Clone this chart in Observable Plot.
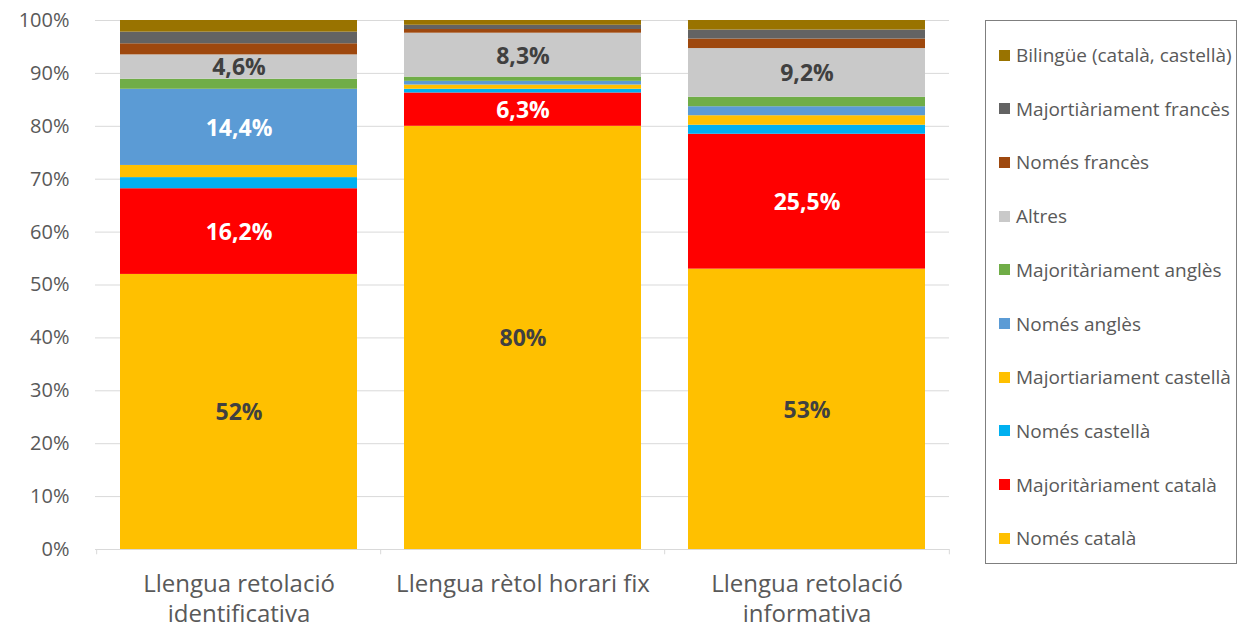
<!DOCTYPE html>
<html>
<head>
<meta charset="utf-8">
<script src="https://cdn.jsdelivr.net/npm/d3@7"></script>
<script src="https://cdn.jsdelivr.net/npm/@observablehq/plot@0.6"></script>
<style>
  html, body { margin: 0; padding: 0; background: #fff; }
  #wrap { position: relative; width: 1239px; height: 629px; font-family: "Open Sans", sans-serif; }
  #legend { position: absolute; left: 985px; top: 20px; width: 252px; height: 544px; border: 1px solid #7f7f7f; box-sizing: border-box; }
  .item { position: absolute; left: 13px; display: flex; align-items: center; font-size: 19px; color: #595959; white-space: nowrap; }
  .sw { width: 11px; height: 11px; margin-right: 6px; }
</style>
</head>
<body>
<div id="wrap"><div id="legend"></div></div>
<script>
// Categories (x axis)
const categories = ["Llengua retolació identificativa", "Llengua rètol horari fix", "Llengua retolació informativa"];
const categoryLabels = ["Llengua retolació\nidentificativa", "Llengua rètol horari fix", "Llengua retolació\ninformativa"];

// Series, bottom to top of each stack
const series = [
  "Només català",
  "Majoritàriament català",
  "Només castellà",
  "Majortiariament castellà",
  "Només anglès",
  "Majoritàriament anglès",
  "Altres",
  "Només francès",
  "Majortiàriament francès",
  "Bilingüe (català, castellà)"
];
const colors = ["#FFC000", "#FF0000", "#00B0F0", "#FFC000", "#5B9BD5", "#70AD47", "#C9C9C9", "#9E480E", "#636363", "#997300"];

// Values (%) per category, in series order
const identificativa = [52, 16.2, 2.1, 2.3, 14.4, 1.9, 4.6, 2.1, 2.2, 2.2];
const horariFix      = [80, 6.3, 0.7, 0.8, 0.7, 0.8, 8.3, 0.7, 0.8, 0.9];
const informativa    = [53, 25.5, 1.7, 1.8, 1.7, 1.8, 9.2, 1.8, 1.7, 1.8];

// Which series carry a data label in each category
const labelledIdentificativa = ["Només català", "Majoritàriament català", "Només anglès", "Altres"];
const labelledHorariFix = ["Només català", "Majoritàriament català", "Altres"];
const labelledInformativa = ["Només català", "Majoritàriament català", "Altres"];

const whiteLabelSeries = ["Majoritàriament català", "Només anglès"];
const yTicks = [0, 10, 20, 30, 40, 50, 60, 70, 80, 90, 100];

const valueSets = [identificativa, horariFix, informativa];
const labelSets = [labelledIdentificativa, labelledHorariFix, labelledInformativa];
const fmt = v => String(v).replace(".", ",") + "%";

const rows = [];
categories.forEach((c, i) => {
  series.forEach((s, j) => {
    const v = valueSets[i][j];
    rows.push({
      category: c,
      series: s,
      value: v,
      label: labelSets[i].includes(s) ? fmt(v) : "",
      labelColor: whiteLabelSeries.includes(s) ? "#ffffff" : "#404040"
    });
  });
});

const pIn = 0.167, pOut = 0.0835;
const plotLeft = 95, plotRight = 949;
const step = (plotRight - plotLeft) / (categories.length - pIn + 2 * pOut);

const chart = Plot.plot({
  width: 1239,
  height: 629,
  marginLeft: plotLeft,
  marginRight: 1239 - plotRight,
  marginTop: 20,
  marginBottom: 80,
  style: { fontFamily: "'Open Sans', sans-serif", color: "#595959", background: "transparent" },
  x: { domain: categories, paddingInner: pIn, paddingOuter: pOut, label: null, axis: null },
  y: { domain: [0, 100], label: null, axis: null },
  color: { domain: series, range: colors },
  marks: [
    Plot.gridY(yTicks, { stroke: "#D9D9D9", strokeOpacity: 1 }),
    Plot.axisY(yTicks, {
      tickSize: 0, tickPadding: 26, fontSize: 20, fill: "#595959",
      tickFormat: d => d + "%", label: null
    }),
    Plot.axisX({
      tickSize: 0, tickPadding: 21, fontSize: 24, fill: "#595959", lineHeight: 1.25,
      tickFormat: d => categoryLabels[categories.indexOf(d)], label: null
    }),
    Plot.barY(rows, Plot.stackY({ x: "category", y: "value", fill: "series", order: series })),
    Plot.text(rows, Plot.stackY({
      x: "category", y: "value", z: "series", order: series,
      text: "label", fill: "labelColor", fontWeight: "bold", fontSize: 23, dy: 1
    })),
    Plot.ruleY([0], { stroke: "#D9D9D9" }),
    Plot.ruleX(categories, { x: d => d, y1: 0, y2: -1, dx: -step / 2, stroke: "#D9D9D9" }),
    Plot.ruleX(categories.slice(-1), { x: d => d, y1: 0, y2: -1, dx: step / 2, stroke: "#D9D9D9" })
  ]
});
document.getElementById("wrap").prepend(chart);

// Legend (top to bottom = reverse stack order)
const legend = document.getElementById("legend");
series.slice().reverse().forEach((s, k) => {
  const idx = series.indexOf(s);
  const item = document.createElement("div");
  item.className = "item";
  item.style.top = (34 + k * 53.7 - 13) + "px";
  item.style.height = "26px";
  const sw = document.createElement("span");
  sw.className = "sw";
  sw.style.background = colors[idx];
  const t = document.createElement("span");
  t.textContent = s;
  item.append(sw, t);
  legend.append(item);
});
</script>
</body>
</html>
